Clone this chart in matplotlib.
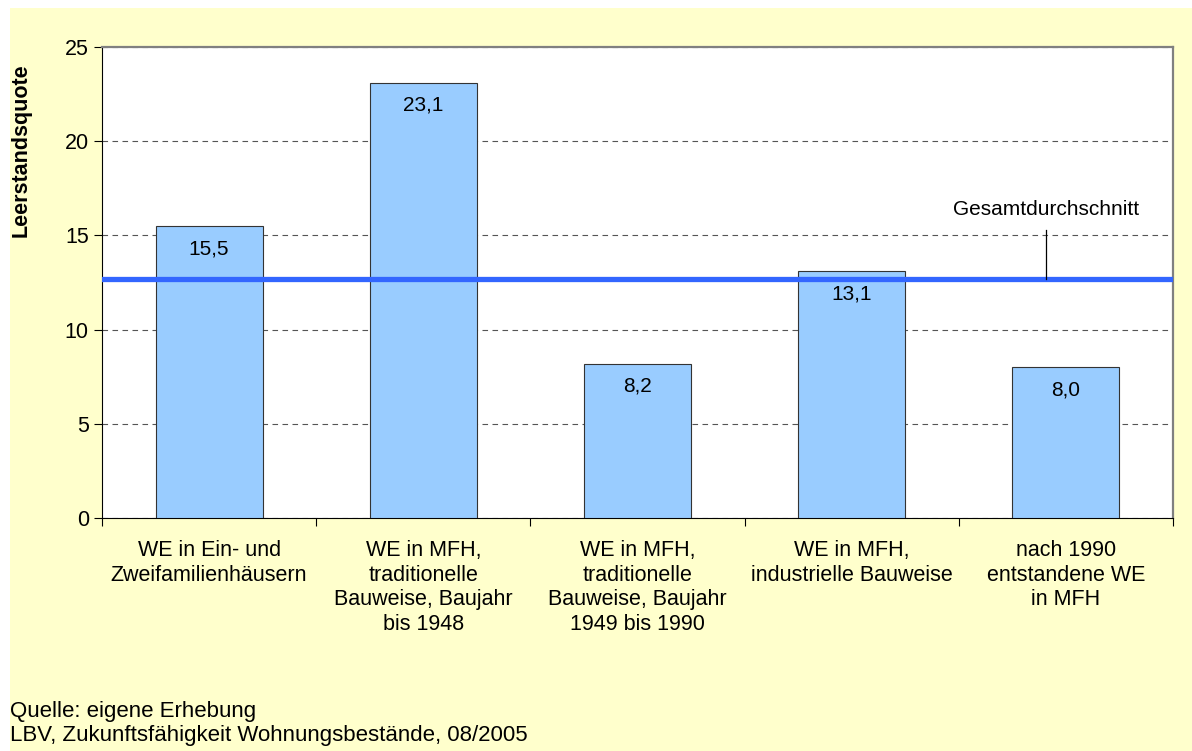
import matplotlib.pyplot as plt
import matplotlib.patches as mpatches

plt.rcParams['font.family'] = ['Liberation Sans', 'DejaVu Sans']

categories = ["WE in Ein- und\nZweifamilienhäusern",
              "WE in MFH,\ntraditionelle\nBauweise, Baujahr\nbis 1948",
              "WE in MFH,\ntraditionelle\nBauweise, Baujahr\n1949 bis 1990",
              "WE in MFH,\nindustrielle Bauweise",
              "nach 1990\nentstandene WE\nin MFH"]
values = [15.5, 23.1, 8.2, 13.1, 8.0]
average = 12.7

fig = plt.figure(figsize=(11.92, 7.51), dpi=100)
fig.patch.set_facecolor("white")
fig.patches.append(mpatches.Rectangle((10 / 1192, 0), 1, 1 - 8 / 751,
                                      transform=fig.transFigure,
                                      facecolor="#FFFFCC", edgecolor="none", zorder=-1))

ax = fig.add_axes([102 / 1192, 1 - 518 / 751, (1173 - 102) / 1192, (518 - 47) / 751])
ax.set_facecolor("white")

x = range(len(values))
ax.bar(x, values, width=0.5, color="#99CCFF", edgecolor="#333333", linewidth=0.8, zorder=3)
for i, v in enumerate(values):
    ax.text(i, v - 1.2, f"{v:.1f}".replace(".", ","), ha="center", va="center",
            fontsize=15, zorder=5)

ax.axhline(average, color="#3366FF", linewidth=3.8, zorder=4)
ax.plot([3.907, 3.907], [average, 15.3], color="black", linewidth=0.9, zorder=5)
ax.text(3.907, 16.35, "Gesamtdurchschnitt", ha="center", va="center", fontsize=15)

ax.set_xlim(-0.5, 4.5)
ax.set_ylim(0, 25)
ax.set_yticks([0, 5, 10, 15, 20, 25])
ax.yaxis.grid(True, linestyle=(0, (5, 4)), color="#555555", linewidth=0.8, zorder=0)
ax.set_xticks([-0.5, 0.5, 1.5, 2.5, 3.5, 4.5])
ax.set_xticklabels([])
ax.tick_params(axis="x", length=6, direction="out", width=0.8)
ax.tick_params(axis="y", length=6, direction="out", labelsize=15.5, width=0.8)
for i, c in enumerate(categories):
    ax.text(i, -1.15, c, ha="center", va="top", fontsize=15.5, linespacing=1.24)

ax.spines["left"].set_color("black")
ax.spines["bottom"].set_color("black")
ax.spines["top"].set_color("#808080")
ax.spines["right"].set_color("#808080")
ax.spines["top"].set_linewidth(1.6)
ax.spines["right"].set_linewidth(1.6)

ax.set_ylabel("Leerstandsquote", fontsize=15.5, fontweight="bold")
ax.yaxis.set_label_coords(-0.066, 0.78)

fig.text(10 / 1192, 1 - 711 / 751, "Quelle: eigene Erhebung", fontsize=16, va="center")
fig.text(10 / 1192, 1 - 735 / 751, "LBV, Zukunftsfähigkeit Wohnungsbestände, 08/2005",
         fontsize=16, va="center")

fig.savefig("out.png", dpi=100)
